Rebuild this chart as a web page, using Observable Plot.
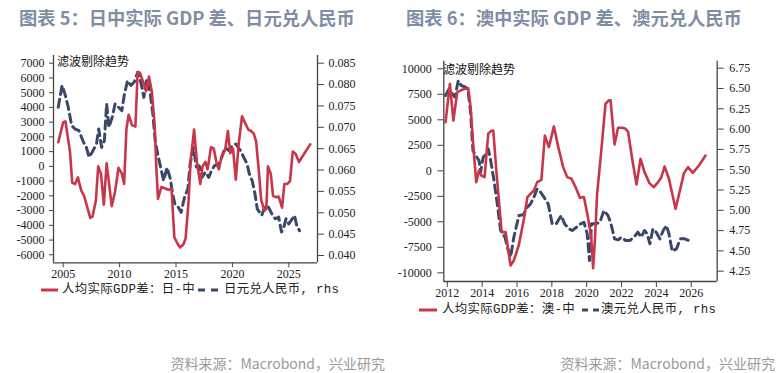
<!DOCTYPE html>
<html><head><meta charset="utf-8">
<script src="https://cdn.jsdelivr.net/npm/d3@7"></script>
<script src="https://cdn.jsdelivr.net/npm/@observablehq/plot@0.6"></script>
<style>
body{margin:0;background:#fff;}
#root{position:relative;width:783px;height:373px;overflow:hidden;font-family:"Noto Sans CJK SC",sans-serif;background:#fff;}
.title{position:absolute;font-size:18.3px;font-weight:700;color:#7f8ea5;line-height:20px;white-space:nowrap;}
.src{position:absolute;font-size:14px;color:#9a9a9a;line-height:18px;white-space:nowrap;}
.panel{position:absolute;}
.ann{position:absolute;font-size:12px;color:#111;line-height:14px;white-space:nowrap;}
.leg{position:absolute;font-family:"Liberation Mono","Noto Sans CJK SC",monospace;font-size:12.4px;letter-spacing:0.35px;color:#222;line-height:16px;white-space:nowrap;}
.sw{position:absolute;}
</style></head>
<body><div id="root"></div>
<script>
// ---------- Japan – China (left panel) ----------
const jpGdpT = [2004.56,2005.0,2005.2,2005.6,2005.8,2006.05,2006.3,2006.6,2006.85,2007.4,2007.6,2007.9,2008.1,2008.35,2008.6,2008.85,2009.3,2009.6,2009.9,2010.2,2010.4,2010.6,2010.8,2011.1,2011.4,2011.6,2011.8,2012.1,2012.35,2012.6,2012.85,2013.1,2013.25,2013.4,2013.7,2014.05,2014.35,2014.6,2014.85,2015.1,2015.35,2015.65,2015.85,2016.1,2016.3,2016.6,2016.85,2017.15,2017.35,2017.6,2017.8,2018.1,2018.35,2018.6,2018.8,2019.05,2019.35,2019.6,2019.8,2020.05,2020.3,2020.55,2020.85,2021.15,2021.4,2021.65,2021.9,2022.1,2022.35,2022.55,2022.85,2023.0,2023.15,2023.4,2023.6,2023.9,2024.1,2024.4,2024.6,2024.85,2025.1,2025.35,2025.6,2025.9,2026.35,2026.9];
const jpGdpV = [1640,3000,3050,1000,-1100,-1200,-750,-1650,-2000,-3500,-3400,-2300,0,-500,-2600,200,-2700,-1700,-100,-500,-1200,2500,3500,2800,2700,6400,6350,5700,5100,6100,5100,2900,0,-2200,-1400,-1500,-1600,-1500,-4800,-5200,-5500,-5300,-4900,-2500,400,2500,300,-1200,0,300,-200,1300,1200,200,-200,700,1100,2400,900,1200,-900,1500,3400,2900,2500,2400,2200,1700,-400,-2300,-3000,-2900,0,-500,-2000,-2100,-2050,-2800,-1200,-1200,-1000,1000,850,300,850,1500];
const jpFxT = [2004.56,2004.9,2005.15,2005.45,2005.75,2006.05,2006.4,2006.8,2007.05,2007.3,2007.65,2007.95,2008.15,2008.4,2008.65,2008.85,2009.05,2009.35,2009.6,2009.9,2010.2,2010.4,2010.7,2011.0,2011.3,2011.6,2011.85,2012.15,2012.4,2012.7,2012.95,2013.15,2013.4,2013.7,2013.9,2014.2,2014.5,2014.7,2014.9,2015.2,2015.45,2015.75,2016.05,2016.25,2016.55,2016.8,2017.05,2017.3,2017.6,2017.9,2018.15,2018.4,2018.8,2019.05,2019.35,2019.65,2020.0,2020.3,2020.7,2021.0,2021.3,2021.5,2021.75,2022.0,2022.2,2022.6,2022.9,2023.2,2023.5,2023.8,2024.1,2024.35,2024.55,2024.75,2025.0,2025.2,2025.5,2025.7,2025.95];
const jpFxV = [0.0747,0.0798,0.0778,0.0747,0.0704,0.0696,0.0692,0.0665,0.0653,0.0630,0.0646,0.0661,0.0696,0.0653,0.0669,0.0755,0.0700,0.0724,0.0755,0.0747,0.0739,0.0774,0.0809,0.0798,0.0806,0.0829,0.0809,0.0770,0.0813,0.0782,0.0731,0.0669,0.0634,0.0599,0.0575,0.0606,0.0579,0.0544,0.0521,0.0513,0.0501,0.0536,0.0556,0.0614,0.0653,0.0607,0.0610,0.0583,0.0595,0.0583,0.0599,0.0610,0.0614,0.0630,0.0653,0.0646,0.0657,0.0661,0.0646,0.0630,0.0614,0.0591,0.0575,0.0544,0.0509,0.0494,0.0517,0.0513,0.0497,0.0486,0.0490,0.0455,0.0466,0.0486,0.0474,0.0482,0.0494,0.0470,0.0458];
const jpXTicks = [2005,2010,2015,2020,2025];
const jpYTicks = [-6000,-5000,-4000,-3000,-2000,-1000,0,1000,2000,3000,4000,5000,6000,7000];
const jpRTicks = [0.040,0.045,0.050,0.055,0.060,0.065,0.070,0.075,0.080,0.085];

// ---------- Australia – China (right panel) ----------
const auGdpT = [2011.9,2012.15,2012.35,2012.57,2012.76,2013.0,2013.2,2013.34,2013.47,2013.66,2013.82,2013.95,2014.14,2014.35,2014.5,2014.64,2014.83,2015.12,2015.35,2015.63,2015.82,2016.1,2016.4,2016.6,2016.78,2016.97,2017.16,2017.4,2017.6,2017.83,2018.12,2018.37,2018.65,2018.88,2019.13,2019.36,2019.61,2019.84,2020.07,2020.26,2020.37,2020.47,2020.6,2020.83,2021.08,2021.27,2021.37,2021.6,2021.8,2022.04,2022.23,2022.38,2022.61,2022.86,2023.09,2023.32,2023.6,2023.85,2024.05,2024.27,2024.47,2024.72,2025.1,2025.35,2025.58,2025.82,2026.09,2026.44,2026.82];
const auGdpV = [4770,8530,4930,7710,7880,8040,8100,6240,2970,-1110,30,-460,-620,3630,3890,3950,-290,-6010,-6010,-9280,-8790,-7320,-4700,-2580,-2250,-1930,-1110,-880,3460,2320,4350,2320,360,-620,-780,-1600,-2650,-2580,-4540,-6500,-9540,-6830,-2250,1830,6570,6900,6900,2580,4220,4220,4120,3790,1180,-1340,1180,-130,-1210,-1600,-1210,-690,420,-780,-3730,-1930,-230,360,-200,520,1500];
const auFxT = [2011.9,2012.1,2012.29,2012.44,2012.63,2012.8,2013.05,2013.19,2013.34,2013.47,2013.63,2013.82,2013.91,2014.06,2014.24,2014.35,2014.49,2014.68,2014.87,2015.06,2015.31,2015.5,2015.63,2015.82,2016.11,2016.36,2016.59,2016.78,2016.97,2017.16,2017.35,2017.55,2017.79,2018.02,2018.25,2018.54,2018.73,2018.98,2019.17,2019.42,2019.65,2019.84,2020.03,2020.16,2020.28,2020.51,2020.76,2020.99,2021.22,2021.37,2021.6,2021.81,2022.0,2022.23,2022.48,2022.71,2022.94,2023.13,2023.32,2023.47,2023.63,2023.8,2023.99,2024.2,2024.39,2024.58,2024.72,2024.91,2025.15,2025.38,2025.63,2025.86];
const auFxV = [6.413,6.495,6.434,6.393,6.598,6.537,6.516,6.475,6.208,5.736,5.675,5.613,5.469,5.654,5.695,5.757,5.613,5.367,5.079,4.751,4.669,4.504,4.422,4.669,4.936,4.944,5.038,5.079,5.161,5.264,5.223,5.161,5.079,4.833,4.833,4.936,4.833,4.771,4.751,4.792,4.833,4.853,4.710,4.381,4.833,4.833,4.853,4.997,4.936,4.853,4.648,4.636,4.669,4.628,4.628,4.669,4.730,4.669,4.751,4.710,4.587,4.771,4.730,4.648,4.751,4.812,4.710,4.496,4.525,4.648,4.648,4.628];
const auXTicks = [2012,2014,2016,2018,2020,2022,2024,2026];
const auYTicks = [-10000,-7500,-5000,-2500,0,2500,5000,7500,10000];
const auRTicks = [4.25,4.50,4.75,5.00,5.25,5.50,5.75,6.00,6.25,6.50,6.75];

// ---------- text ----------
const titles = ["图表 5：日中实际 GDP 差、日元兑人民币", "图表 6：澳中实际 GDP 差、澳元兑人民币"];
const legendGdp = ["人均实际GDP差：日-中", "人均实际GDP差：澳-中"];
const legendFx = ["日元兑人民币, rhs", "澳元兑人民币, rhs"];
const annotation = "滤波剔除趋势";
const source = "资料来源：Macrobond，兴业研究";

const RED = "#c8364a", NAVY = "#3a4868";

function zip(t, v) { return t.map((d, i) => ({t: d, v: v[i]})); }

function makePanel(o) {
  const r2l = d3.scaleLinear().domain(o.rDomain).range(o.yDomain);
  const rMapped = o.rTicks.map(r2l);
  return Plot.plot({
    width: o.width, height: o.height,
    marginLeft: o.mL, marginRight: o.mR, marginTop: o.mT, marginBottom: o.mB,
    x: {domain: o.xDomain, label: null},
    y: {domain: o.yDomain, label: null},
    style: {fontFamily: "'Liberation Serif', serif", fontSize: "12px", color: "#222", background: "transparent", overflow: "visible"},
    marks: [
      Plot.axisY(o.yTicks, {anchor: "left", tickSize: o.lTick, tickPadding: o.lPad, tickFormat: d => String(d), label: null, stroke: "#444"}),
      Plot.axisY(rMapped, {anchor: "right", tickSize: o.rTick, tickPadding: o.rPad, tickFormat: d => o.rFmt(r2l.invert(d)), label: null, stroke: "#444"}),
      Plot.axisX(o.xTicks, {anchor: "bottom", tickSize: o.bTick, tickPadding: o.bPad, tickFormat: d => String(d), label: null, stroke: "#444"}),
      Plot.ruleX(o.xDomain, {stroke: "#444", strokeWidth: 1.3}),
      Plot.ruleY([o.yDomain[0]], {stroke: "#444", strokeWidth: 1.3}),
      Plot.line(o.fx, {x: "t", y: d => r2l(d.v), stroke: NAVY, strokeWidth: 3, strokeDasharray: "8,5"}),
      Plot.line(o.gdp, {x: "t", y: "v", stroke: RED, strokeWidth: 2.6, strokeLinejoin: "round"})
    ]
  });
}

const root = document.getElementById("root");
function addDiv(cls, text, left, top) {
  const d = document.createElement("div");
  d.className = cls; d.textContent = text;
  d.style.left = left + "px"; d.style.top = top + "px";
  root.appendChild(d); return d;
}
function addSwatch(left, cy, w, color, dash) {
  const ns = "http://www.w3.org/2000/svg";
  const s = document.createElementNS(ns, "svg");
  s.setAttribute("class", "sw"); s.setAttribute("width", w); s.setAttribute("height", 6);
  s.style.left = left + "px"; s.style.top = (cy - 3) + "px";
  const l = document.createElementNS(ns, "line");
  l.setAttribute("x1", 0); l.setAttribute("x2", w); l.setAttribute("y1", 3); l.setAttribute("y2", 3);
  l.setAttribute("stroke", color); l.setAttribute("stroke-width", 3);
  if (dash) l.setAttribute("stroke-dasharray", dash);
  s.appendChild(l); root.appendChild(s);
}

// left panel
const p1 = makePanel({
  width: 390, height: 250, mL: 53, mR: 73, mT: 15, mB: 27.7,
  xDomain: [2004.14, 2027.54], yDomain: [-6543, 7522], rDomain: [0.0383, 0.0868],
  xTicks: jpXTicks, yTicks: jpYTicks, rTicks: jpRTicks, rFmt: d3.format(".3f"),
  gdp: zip(jpGdpT, jpGdpV), fx: zip(jpFxT, jpFxV),
  lTick: 4, lPad: 5, rTick: 6, rPad: 5, bTick: 5, bPad: 2
});
const w1 = document.createElement("div"); w1.className = "panel"; w1.style.left = "0px"; w1.style.top = "40px";
w1.appendChild(p1); root.appendChild(w1);

// right panel
const p2 = makePanel({
  width: 393, height: 265, mL: 53.3, mR: 66.3, mT: 20.7, mB: 24,
  xDomain: [2011.80, 2027.49], yDomain: [-10853, 10745], rDomain: [4.123, 6.836],
  xTicks: auXTicks, yTicks: auYTicks, rTicks: auRTicks, rFmt: d3.format(".2f"),
  gdp: zip(auGdpT, auGdpV), fx: zip(auFxT, auFxV),
  lTick: 6, lPad: 6, rTick: 6, rPad: 6, bTick: 6, bPad: 1
});
const w2 = document.createElement("div"); w2.className = "panel"; w2.style.left = "390px"; w2.style.top = "40px";
w2.appendChild(p2); root.appendChild(w2);

// titles
addDiv("title", titles[0], 19, 7);
addDiv("title", titles[1], 406, 7);
// annotations
addDiv("ann", annotation, 57, 54);
addDiv("ann", annotation, 443, 62);
// legends
addSwatch(41, 290, 17, RED);
addDiv("leg", legendGdp[0], 62, 282);
addSwatch(198, 290, 20, NAVY, "7,6");
addDiv("leg", legendFx[0], 224, 282);
addSwatch(419, 310, 18, RED);
addDiv("leg", legendGdp[1], 442, 302);
addSwatch(582, 310, 17, NAVY, "6,5");
addDiv("leg", legendFx[1], 601, 302);
// sources
const s1 = addDiv("src", source, 0, 354); s1.style.left = "auto"; s1.style.right = (783 - 385) + "px";
const s2 = addDiv("src", source, 0, 354); s2.style.left = "auto"; s2.style.right = (783 - 775) + "px";
</script>
</body></html>
